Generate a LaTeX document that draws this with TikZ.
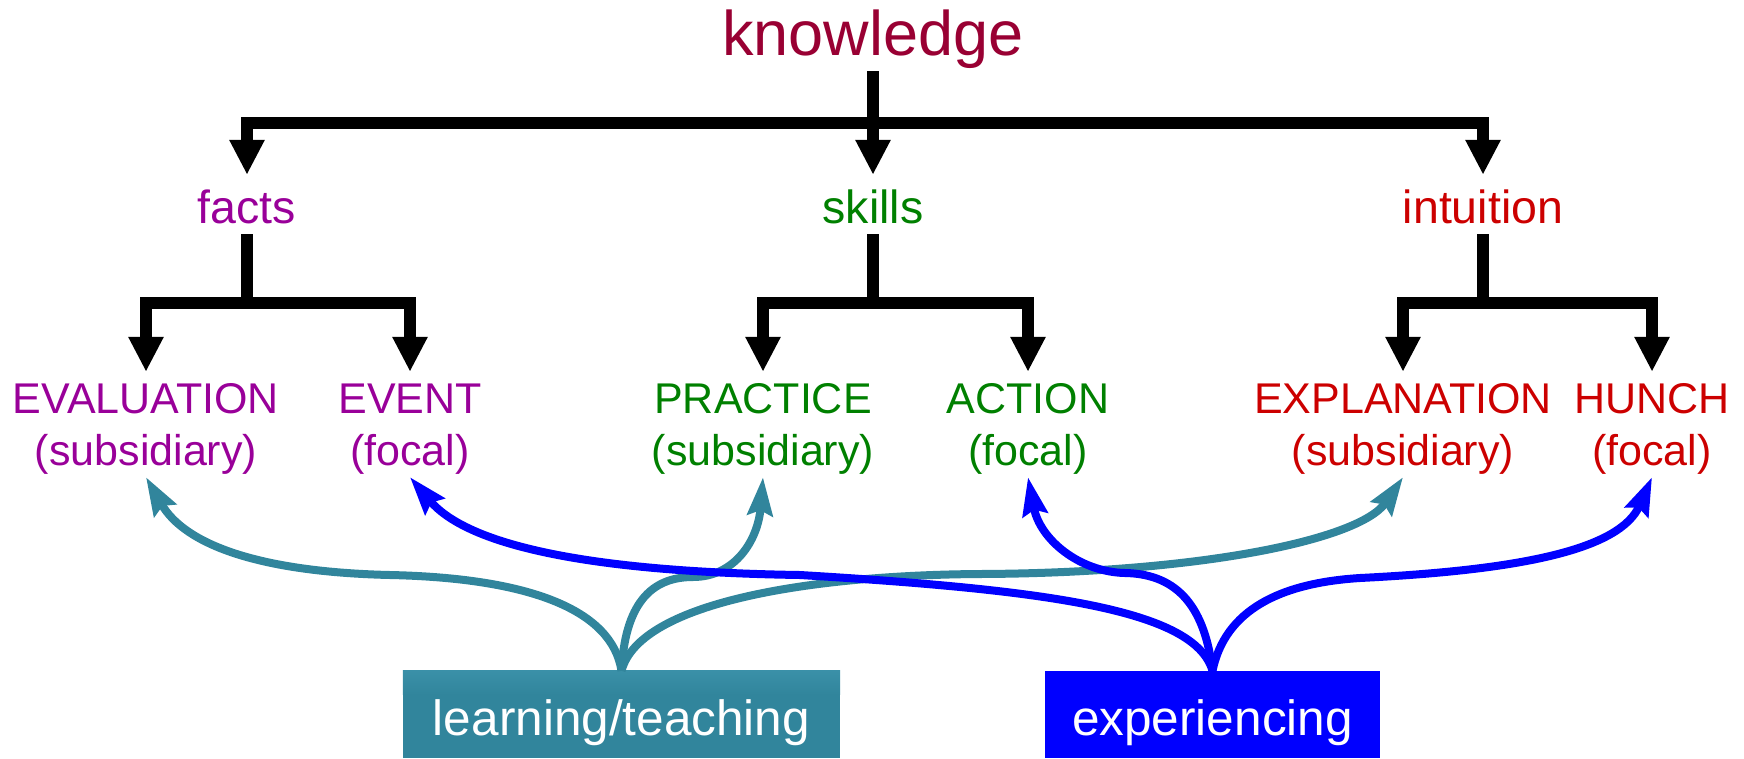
\documentclass[tikz,border=0pt]{standalone}
\usepackage{fontspec}
\setmainfont{Liberation Sans}
\usetikzlibrary{arrows.meta}

\definecolor{knowc}{HTML}{990033}
\definecolor{factc}{HTML}{990099}
\definecolor{skillc}{HTML}{008000}
\definecolor{intuc}{HTML}{CC0000}
\definecolor{tealc}{HTML}{31859C}
\definecolor{teall}{HTML}{3A90A8}
\definecolor{bluec}{HTML}{0000FF}

\tikzset{
  txt/.style={inner sep=0pt, anchor=base},
  top/.style={txt, font=\fontsize{63}{70}\selectfont, text depth=16pt},
  mid/.style={txt, font=\fontsize{46.5}{52}\selectfont, text height=48pt, text depth=11pt},
  leafa/.style={txt, font=\fontsize{43}{48}\selectfont, text height=41pt},
  leafb/.style={txt, font=\fontsize{43}{48}\selectfont, text depth=12pt},
  treearrow/.style={line width=12pt, line join=miter, -{Triangle[length=35pt,width=33pt]}},
  flow/.style={line width=8pt, -{Stealth[length=38pt,width=25pt,inset=5pt]}},
  srcbox/.style={rectangle, inner sep=0pt, minimum height=87pt, text=white,
    font=\fontsize{49.5}{55}\selectfont, text height=41pt, text depth=0pt},
}

\begin{document}
\begin{tikzpicture}[x=1pt,y=-1pt]
\useasboundingbox (0,0) rectangle (1744,758);

% top of the hierarchy
\node[top, text=knowc] (know) at (873,55) {knowledge};

% second level
\node[mid, text=factc]  (facts)  at (247,223)  {facts};
\node[mid, text=skillc] (skills) at (873,223)  {skills};
\node[mid, text=intuc]  (intu)   at (1483,223) {intuition};

% leaves: name line and kind line
\node[leafa, text=factc]  (eval)  at (146,413)  {EVALUATION};
\node[leafb, text=factc]  (evals) at (146,465)  {(subsidiary)};
\node[leafa, text=factc]  (event) at (410,413)  {EVENT};
\node[leafb, text=factc]  (eventf) at (410,465) {(focal)};
\node[leafa, text=skillc] (prac)  at (763,413)  {PRACTICE};
\node[leafb, text=skillc] (pracs) at (763,465)  {(subsidiary)};
\node[leafa, text=skillc] (act)   at (1028,413) {ACTION};
\node[leafb, text=skillc] (actf)  at (1028,465) {(focal)};
\node[leafa, text=intuc]  (expl)  at (1403,413) {EXPLANATION};
\node[leafb, text=intuc]  (expls) at (1403,465) {(subsidiary)};
\node[leafa, text=intuc]  (hunch) at (1652,413) {HUNCH};
\node[leafb, text=intuc]  (hunchf) at (1652,465) {(focal)};

% bars of the tree
\coordinate (barA) at (873,123);
\coordinate (barF) at (247,303);
\coordinate (barS) at (873,303);
\coordinate (barI) at (1483,303);

\draw[treearrow] (know.south) -- (barA) -| (facts.north);
\draw[treearrow] (barA) -| (intu.north);
\draw[treearrow] (barA) -- (skills.north);

\draw[treearrow] (facts.south) -- (barF) -| (eval.north);
\draw[treearrow] (barF) -| (event.north);
\draw[treearrow] (skills.south) -- (barS) -| (prac.north);
\draw[treearrow] (barS) -| (act.north);
\draw[treearrow] (intu.south) -- (barI) -| (expl.north);
\draw[treearrow] (barI) -| (hunch.north);

% source boxes
\node[srcbox, fill=tealc, minimum width=437pt] (lt) at (621.5,714.5) {learning/teaching};
\fill[top color=teall, bottom color=tealc] (lt.north west) rectangle ([yshift=-24pt]lt.north east);
\node[srcbox, fill=bluec, minimum width=335pt] (exp) at (1212.5,714.5) {experiencing};

% learning/teaching flows
\draw[flow, tealc] (lt.north) .. controls (612,610) and (530,578) .. (390,575)
  .. controls (260,572) and (185,545) .. (evals.south);
\draw[flow, tealc] (lt.north) .. controls (625,605) and (650,577) .. (693,577)
  .. controls (735,577) and (758,540) .. (pracs.south);
\draw[flow, tealc] (lt.north) .. controls (640,600) and (820,575) .. (980,574)
  .. controls (1200,573) and (1360,540) .. (expls.south);

% experiencing flows
\draw[flow, bluec] (exp.north) .. controls (1195,610) and (1050,590) .. (800,575)
  .. controls (600,572) and (470,548) .. (eventf.south);
\draw[flow, bluec] (exp.north) .. controls (1205,610) and (1180,574) .. (1125,573)
  .. controls (1080,572) and (1040,540) .. (actf.south);
\draw[flow, bluec] (exp.north) .. controls (1225,610) and (1280,583) .. (1360,578)
  .. controls (1520,570) and (1620,550) .. (hunchf.south);
\end{tikzpicture}
\end{document}
